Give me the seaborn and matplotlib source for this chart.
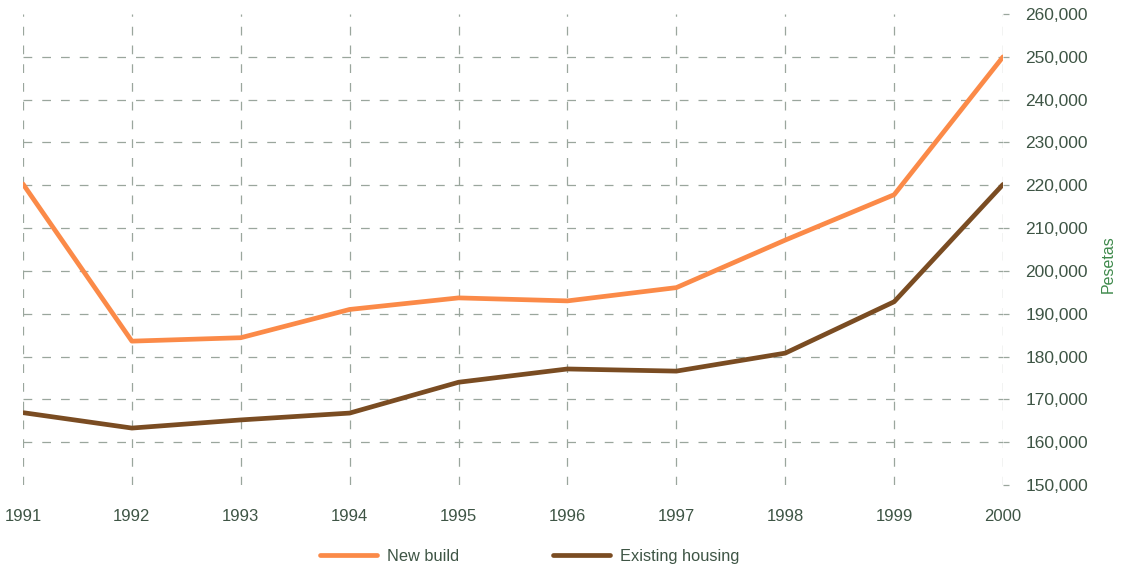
import pandas as pd
import seaborn as sns
import matplotlib.pyplot as plt
from matplotlib.ticker import FuncFormatter

# data (pesetas)
years = [1991, 1992, 1993, 1994, 1995, 1996, 1997, 1998, 1999, 2000]
new_build = [220300, 183600, 184400, 191000, 193700, 193000, 196100, 207200, 217800, 250000]
existing_housing = [166900, 163300, 165200, 166800, 174000, 177100, 176600, 180800, 192800, 220200]
series_names = ['New build', 'Existing housing']
series_colors = ['#fb8a48', '#7a4c22']
y_ticks = [150000, 160000, 170000, 180000, 190000, 200000, 210000, 220000, 230000, 240000, 250000, 260000]

df = pd.DataFrame({
    'year': years * 2,
    'value': new_build + existing_housing,
    'series': [series_names[0]] * len(years) + [series_names[1]] * len(years),
})

sns.set_theme(style='white')
plt.rcParams['font.family'] = ['Liberation Sans', 'DejaVu Sans']

text_col = '#3e5545'
grid_col = '#9aa69d'

fig = plt.figure(figsize=(11.27, 5.67), dpi=100)
ax = fig.add_axes([0.0204, 0.1446, 0.8696, 0.8307])

sns.lineplot(data=df, x='year', y='value', hue='series', hue_order=series_names,
             palette=series_colors, linewidth=3.4, ax=ax, legend=True, zorder=3)

ax.set_xlim(years[0], years[-1])
ax.set_ylim(y_ticks[0], y_ticks[-1])
for s in ax.spines.values():
    s.set_visible(False)

# x axis
ax.set_xticks(years)
ax.set_xticklabels([str(y) for y in years])
ax.tick_params(axis='x', length=6, width=0.9, color=grid_col, pad=11,
               labelsize=12, labelcolor=text_col)
ax.set_xlabel('')

# y axis on the right
ax.yaxis.tick_right()
ax.set_yticks(y_ticks)
ax.yaxis.set_major_formatter(FuncFormatter(lambda v, p: f'{int(v):,}'))
ax.tick_params(axis='y', length=4, width=0.9, color=grid_col, pad=12,
               labelsize=12.5, labelcolor=text_col)
ax.yaxis.set_label_position('right')
ax.set_ylabel('Pesetas', color='#3f8a4c', fontsize=11.5, rotation=90, labelpad=10)
ax.yaxis.set_label_coords(1.1, 0.47)

# dashed grid
ax.grid(True, axis='both', color=grid_col, linewidth=0.9, linestyle=(0, (7, 8)))
ygl = ax.yaxis.get_gridlines()
ygl[0].set_visible(False)
ygl[-1].set_visible(False)

# legend at bottom
leg = ax.legend(loc='center', bbox_to_anchor=(0.47, 0.019), bbox_transform=fig.transFigure,
                ncol=2, frameon=False, handlelength=3.5, handletextpad=0.6,
                columnspacing=5.7, fontsize=11.8)
for t in leg.get_texts():
    t.set_color(text_col)
for h in leg.get_lines():
    h.set_linewidth(3.4)

plt.savefig('out.png', dpi=100)
